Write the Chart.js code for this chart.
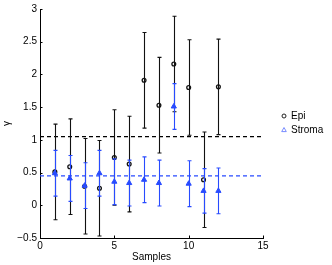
<!DOCTYPE html>
<html><head><meta charset="utf-8">
<script src="https://cdn.jsdelivr.net/npm/chart.js@4"></script>
<style>html,body{margin:0;padding:0;background:#fff}canvas{display:block}</style>
</head><body>
<canvas id="c" width="332" height="265"></canvas>
<script>
const samples = [1, 2, 3, 4, 5, 6, 7, 8, 9, 10, 11, 12];
const epiMean = [0.51, 0.59, 0.29, 0.26, 0.73, 0.63, 1.91, 1.53, 2.16, 1.80, 0.39, 1.81];
const epiErr = [0.73, 0.73, 0.73, 0.73, 0.73, 0.73, 0.73, 0.73, 0.73, 0.73, 0.73, 0.73];
const stromaMean = [0.49, 0.41, 0.30, 0.49, 0.36, 0.34, 0.39, 0.34, 1.51, 0.33, 0.22, 0.22];
const stromaErr = [0.35, 0.35, 0.35, 0.35, 0.35, 0.35, 0.35, 0.35, 0.35, 0.35, 0.34, 0.35];
const epiAvg = 1.05;
const stromaAvg = 0.45;
const xRange = [0, 15];
const yRange = [-0.5, 3];
const seriesLabels = ['Epi', 'Stroma'];

const BLACK = '#111';
const BLUE = 'rgb(40,75,255)';
const FONT = {family: '"Liberation Sans", Arial, Helvetica, sans-serif', size: 10};

const errorBars = {
  id: 'errorBars',
  beforeDatasetDraw(chart, args) {
    const ds = chart.data.datasets[args.index];
    if (!ds.errors) return;
    const {ctx, scales: {x, y}} = chart;
    ctx.save();
    ctx.strokeStyle = ds.barColor;
    ctx.lineWidth = 1.1;
    ctx.beginPath();
    ds.data.forEach((p, i) => {
      const px = Math.round(x.getPixelForValue(p.x)) + 0.5;
      const top = y.getPixelForValue(p.y + ds.errors[i]);
      const bot = y.getPixelForValue(p.y - ds.errors[i]);
      ctx.moveTo(px, top); ctx.lineTo(px, bot);
      ctx.moveTo(px - 2, top); ctx.lineTo(px + 2, top);
      ctx.moveTo(px - 2, bot); ctx.lineTo(px + 2, bot);
    });
    ctx.stroke();
    ctx.restore();
  }
};

const innerTicks = {
  id: 'innerTicks',
  afterDraw(chart) {
    const {ctx, chartArea: a, scales: {x, y}} = chart;
    ctx.save();
    ctx.strokeStyle = '#000';
    ctx.lineWidth = 1;
    ctx.beginPath();
    y.ticks.forEach(t => {
      const py = Math.round(y.getPixelForValue(t.value)) + 0.5;
      ctx.moveTo(a.left, py); ctx.lineTo(a.left + 2.5, py);
    });
    x.ticks.forEach(t => {
      const px = Math.round(x.getPixelForValue(t.value)) + 0.5;
      ctx.moveTo(px, a.bottom); ctx.lineTo(px, a.bottom - 2.5);
    });
    ctx.stroke();
    // legend
    const lx = a.right + 21, ly = [116, 130];
    ctx.font = '10px "Liberation Sans", Arial, sans-serif';
    ctx.textBaseline = 'middle';
    ctx.fillStyle = '#000';
    ctx.lineWidth = 1;
    ctx.strokeStyle = '#222';
    ctx.beginPath(); ctx.arc(lx, ly[0], 2, 0, Math.PI * 2); ctx.stroke();
    ctx.fillText(seriesLabels[0], lx + 7, ly[0]);
    ctx.strokeStyle = 'rgb(120,140,255)';
    ctx.beginPath();
    ctx.moveTo(lx, ly[1] - 2.5); ctx.lineTo(lx + 2.3, ly[1] + 1.6); ctx.lineTo(lx - 2.3, ly[1] + 1.6); ctx.closePath();
    ctx.stroke();
    ctx.fillText(seriesLabels[1], lx + 7, ly[1]);
    ctx.restore();
  }
};

new Chart(document.getElementById('c'), {
  type: 'scatter',
  data: {
    datasets: [
      {
        label: seriesLabels[0],
        data: samples.map((s, i) => ({x: s, y: epiMean[i]})),
        errors: epiErr, barColor: BLACK,
        pointStyle: 'circle', pointRadius: 1.9, pointBorderWidth: 1.3,
        borderColor: BLACK, backgroundColor: 'rgba(0,0,0,0)', order: 5
      },
      {
        label: seriesLabels[1],
        data: samples.map((s, i) => ({x: s, y: stromaMean[i]})),
        errors: stromaErr, barColor: BLUE,
        pointStyle: 'triangle', pointRadius: 3, pointBorderWidth: 1,
        borderColor: BLUE, backgroundColor: BLUE, order: 1
      },
      {
        type: 'line', label: 'epiAvg',
        data: [{x: xRange[0], y: epiAvg}, {x: xRange[1], y: epiAvg}],
        borderColor: '#000', borderWidth: 1.3, borderDash: [4, 3],
        pointRadius: 0, fill: false, order: 10
      },
      {
        type: 'line', label: 'stromaAvg',
        data: [{x: xRange[0], y: stromaAvg}, {x: xRange[1], y: stromaAvg}],
        borderColor: BLUE, borderWidth: 1.3, borderDash: [4, 3],
        pointRadius: 0, fill: false, order: 9
      }
    ]
  },
  options: {
    responsive: false, animation: false, devicePixelRatio: 1,
    layout: {padding: {top: 9, right: 69, left: 0, bottom: 0}},
    plugins: {legend: {display: false}, tooltip: {enabled: false}},
    scales: {
      x: {
        type: 'linear', position: 'bottom', min: xRange[0], max: xRange[1],
        ticks: {stepSize: 5, color: '#000', font: FONT, padding: 2, maxRotation: 0, autoSkip: false},
        grid: {display: false, tickLength: 0},
        border: {display: true, color: '#000', width: 1},
        title: {display: true, text: 'Samples', color: '#000', font: FONT, padding: {top: 0, bottom: 1.5}},
        afterFit(s) { s.height = 27; }
      },
      y: {
        type: 'linear', position: 'left', min: yRange[0], max: yRange[1],
        ticks: {stepSize: 0.5, color: '#000', font: FONT, padding: 3,
          callback: v => v < 0 ? '\u2212' + Math.abs(v) : String(v)},
        grid: {display: false, tickLength: 0},
        border: {display: true, color: '#000', width: 1},
        title: {display: true, text: 'γ', color: '#000', font: FONT, padding: {top: 1, bottom: 0}},
        afterFit(s) { s.width = 40; }
      }
    }
  },
  plugins: [errorBars, innerTicks]
});
</script>
</body></html>
